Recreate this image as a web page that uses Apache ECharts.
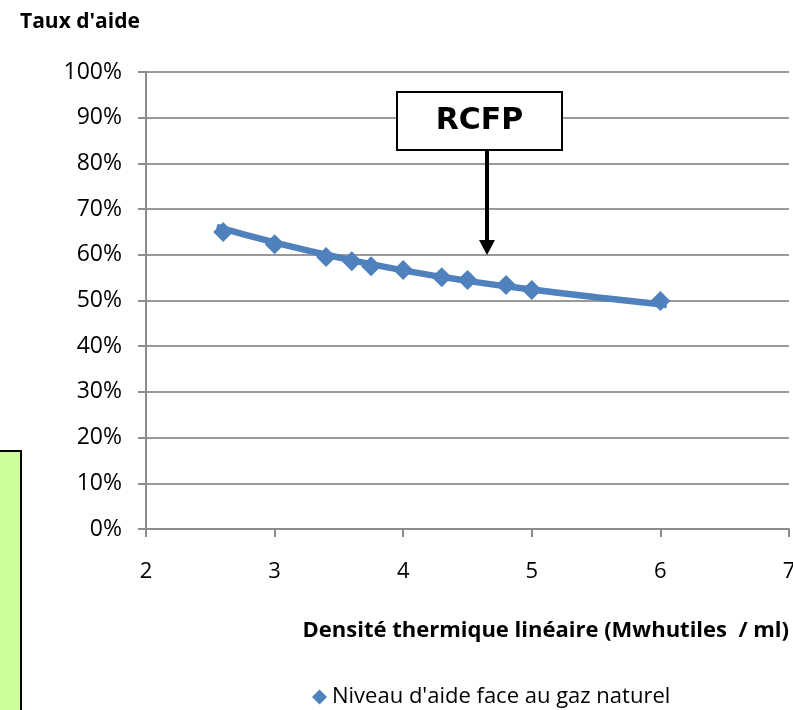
<!DOCTYPE html>
<html>
<head>
<meta charset="utf-8">
<script src="https://cdn.jsdelivr.net/npm/echarts@6/dist/echarts.min.js"></script>
<style>
html,body{margin:0;padding:0;background:#fff}
#main{width:793px;height:710px}
</style>
</head>
<body>
<div id="main"></div>
<script>
// densité (MWh utiles / ml) et taux d'aide (%)
const densite=[2.6,3,3.4,3.6,3.75,4,4.3,4.5,4.8,5,6]
const tauxAide=[65,62.3,59.5,58.6,57.5,56.7,55.1,54.5,53.4,52.3,49.9]
// courbe de tendance
const tendanceX=[2.55,3,3.5,4,4.5,5,5.5,6.05]
const tendanceY=[66.1,62.7,59.4,56.6,54.3,52.4,50.7,49.0]
const yTicks=[0,10,20,30,40,50,60,70,80,90,100]

const chartDom=document.getElementById('main')
let myChart=echarts.init(chartDom)
let font='"Open Sans", sans-serif'
let bleu='#4F81BD'
let option;
option={
    animation:false,
    textStyle:{fontFamily:font},
    grid:{left:146,right:4,top:72,bottom:181,outerBoundsMode:'none',containLabel:false},
    xAxis:{
        type:'value',min:2,max:7,interval:1,
        axisLine:{lineStyle:{color:'#8c8c8c',width:2}},
        axisTick:{show:true,length:8,lineStyle:{color:'#8c8c8c',width:2}},
        axisLabel:{color:'#000',fontSize:22,margin:32,fontFamily:font},
        splitLine:{show:false},
        name:"Densité thermique linéaire (Mwhutiles  / ml)",
        nameLocation:'end',
        nameGap:0,
        nameTextStyle:{color:'#000',fontSize:22,fontWeight:'bold',align:'right',verticalAlign:'top',padding:[91,0,0,0],fontFamily:font}
    },
    yAxis:{
        type:'value',min:0,max:100,interval:10,
        axisLine:{show:true,lineStyle:{color:'#8c8c8c',width:2}},
        axisTick:{show:true,length:8,lineStyle:{color:'#8c8c8c',width:2}},
        axisLabel:{color:'#000',fontSize:23,margin:24,formatter:function(v){return yTicks.indexOf(v)>=0?v+'%':''},fontFamily:font},
        splitLine:{lineStyle:{color:'#9a9a9a',width:2}}
    },
    legend:{
        bottom:-3,left:307,
        itemWidth:15,itemHeight:15,itemGap:4,
        data:[{name:"Niveau d'aide face au gaz naturel",icon:'diamond'}],
        textStyle:{color:'#000',fontSize:22,fontFamily:font}
    },
    series:[
        {
            name:'tendance',
            type:'line',
            smooth:true,
            showSymbol:false,
            data:tendanceX.map((x,i)=>[x,tendanceY[i]]),
            lineStyle:{color:bleu,width:6.5},
            z:2
        },
        {
            name:"Niveau d'aide face au gaz naturel",
            type:'scatter',
            symbol:'diamond',
            symbolSize:20,
            data:densite.map((x,i)=>[x,tauxAide[i]]),
            itemStyle:{color:bleu,opacity:1},
            z:3
        }
    ],
    graphic:[
        {type:'text',left:20,top:12,style:{text:"Taux d'aide",fill:'#000',font:'bold 21px "Open Sans", sans-serif'}},
        {type:'rect',shape:{x:-2,y:451,width:23,height:270},style:{fill:'#CCFF99',stroke:'#000',lineWidth:2}},
        {type:'rect',shape:{x:397,y:92,width:165,height:58},style:{fill:'#fff',stroke:'#000',lineWidth:2},z:10},
        {type:'text',x:479.5,y:121,style:{text:'RCFP',fill:'#000',font:'bold 30px "DejaVu Sans", sans-serif',align:'center',verticalAlign:'middle'},z:11},
        {type:'line',shape:{x1:487,y1:150,x2:487,y2:242},style:{stroke:'#000',lineWidth:4},z:10},
        {type:'polygon',shape:{points:[[479,240],[495,240],[487,255]]},style:{fill:'#000'},z:10}
    ]
}

option && myChart.setOption(option);
</script>
</body>
</html>
